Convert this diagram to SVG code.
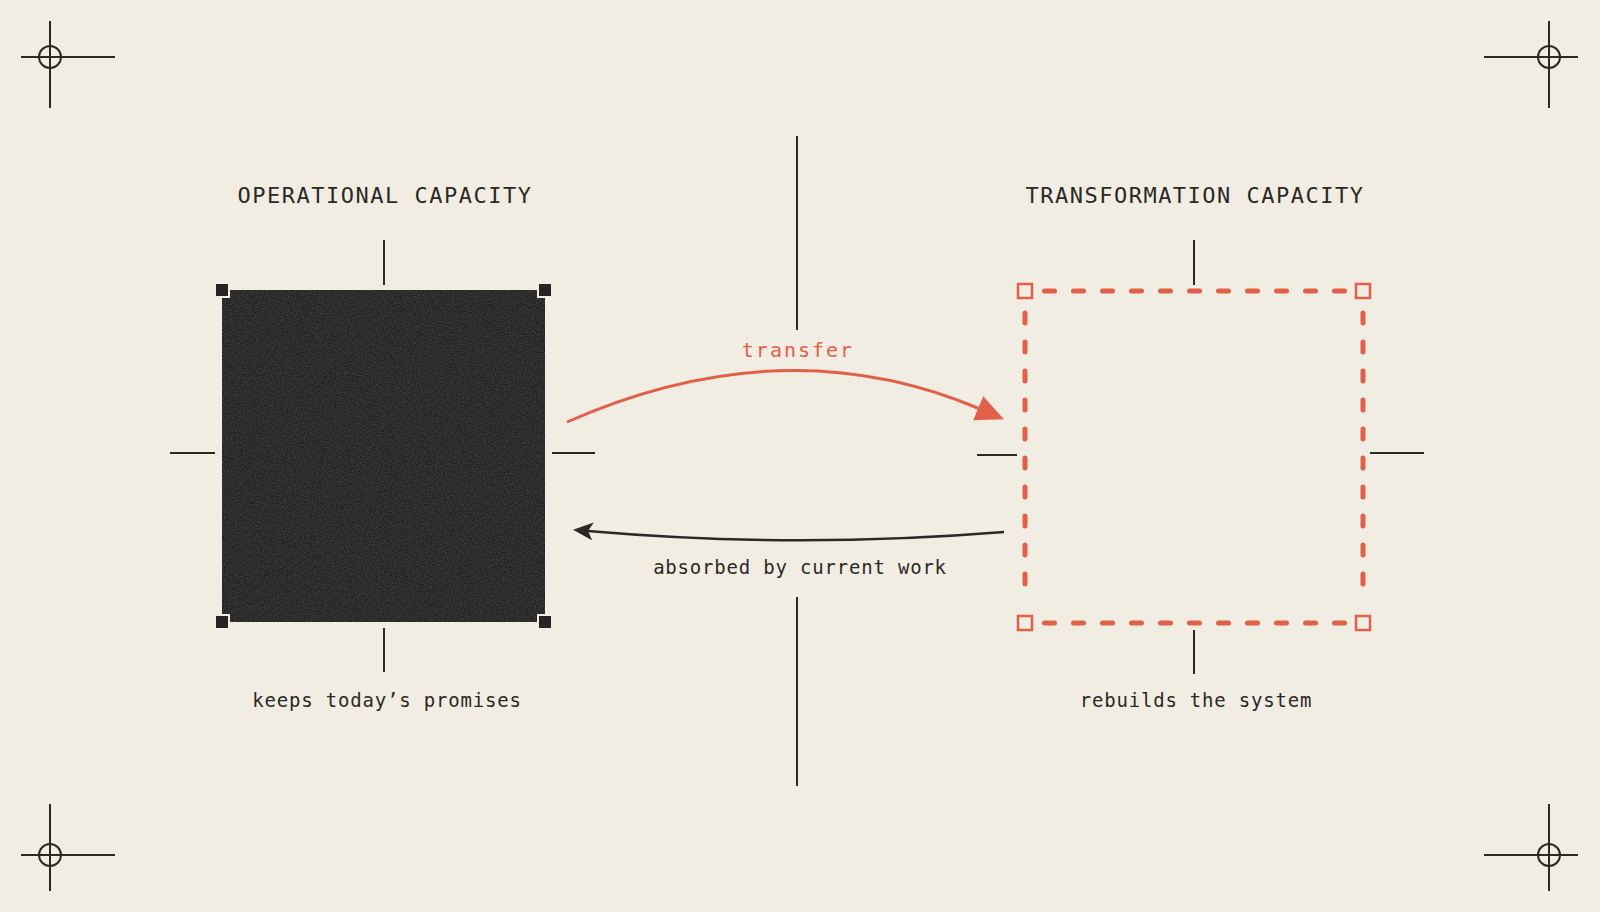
<svg xmlns="http://www.w3.org/2000/svg" width="1600" height="912" viewBox="0 0 1600 912">
  <style>
    .ink { stroke: #2a2926; stroke-width: 2; fill: none; }
    .title { font-family: "DejaVu Sans Mono", "Liberation Mono", monospace; font-size: 22px; letter-spacing: 1.5px; fill: #2a2926; text-anchor: middle; }
    .caption { font-family: "DejaVu Sans Mono", "Liberation Mono", monospace; font-size: 19px; letter-spacing: 0.8px; fill: #2a2926; text-anchor: middle; }
    .red-label { font-family: "DejaVu Sans Mono", "Liberation Mono", monospace; font-size: 20px; letter-spacing: 2px; fill: #e0604a; text-anchor: middle; }
    .dash { stroke: #e0604a; stroke-width: 5; stroke-linecap: round; stroke-dasharray: 10 19; fill: none; }
    .handle-dark { fill: #252423; stroke: #f2ede2; stroke-width: 2; }
    .handle-red { fill: #f2ede2; stroke: #e0604a; stroke-width: 2.5; }
  </style>
  <defs>
    <filter id="grain" x="0" y="0" width="100%" height="100%">
      <feTurbulence type="fractalNoise" baseFrequency="0.9" numOctaves="2" seed="3" result="n"/>
      <feColorMatrix in="n" type="matrix" values="0 0 0 0 0.3  0 0 0 0 0.3  0 0 0 0 0.29  0 0 0 0.22 -0.06" result="g"/>
      <feComposite in="g" in2="SourceGraphic" operator="in" result="gi"/>
      <feMerge><feMergeNode in="SourceGraphic"/><feMergeNode in="gi"/></feMerge>
    </filter>
    <marker id="tri" markerUnits="userSpaceOnUse" viewBox="0 0 28 26" markerWidth="28" markerHeight="26" refX="2" refY="13" orient="auto">
      <path d="M0,0 L28,13 L0,26 Z" fill="#e0604a"/>
    </marker>
    <marker id="barb" markerUnits="userSpaceOnUse" viewBox="0 0 20 18" markerWidth="20" markerHeight="18" refX="5" refY="9" orient="auto">
      <path d="M20,9 L0,0 L5,9 L0,18 Z" fill="#2a2926"/>
    </marker>
    <g id="crosshair">
      <line x1="-29" y1="0" x2="65" y2="0"/>
      <line x1="0" y1="-36" x2="0" y2="51"/>
      <circle cx="0" cy="0" r="11"/>
    </g>
  </defs>

  <rect x="0" y="0" width="1600" height="912" fill="#f2ede2"/>

  <g id="registration-marks" class="ink">
    <use href="#crosshair" transform="translate(50,57)"/>
    <use href="#crosshair" transform="translate(1549,57) scale(-1,1)"/>
    <use href="#crosshair" transform="translate(50,855) scale(1,-1)"/>
    <use href="#crosshair" transform="translate(1549,855) scale(-1,-1)"/>
  </g>

  <g id="divider" class="ink">
    <line x1="797" y1="136" x2="797" y2="330"/>
    <line x1="797" y1="597" x2="797" y2="786"/>
  </g>

  <g id="operational-capacity">
    <text class="title" x="385" y="203">OPERATIONAL CAPACITY</text>
    <rect x="222" y="290" width="323" height="332" fill="#232221" filter="url(#grain)"/>
    <rect class="handle-dark" x="215" y="283" width="14" height="14"/>
    <rect class="handle-dark" x="538" y="283" width="14" height="14"/>
    <rect class="handle-dark" x="215" y="615" width="14" height="14"/>
    <rect class="handle-dark" x="538" y="615" width="14" height="14"/>
    <g class="ink">
      <line x1="384" y1="240" x2="384" y2="285"/>
      <line x1="384" y1="628" x2="384" y2="672"/>
      <line x1="170" y1="453" x2="215" y2="453"/>
      <line x1="552" y1="453" x2="595" y2="453"/>
    </g>
    <text class="caption" x="387" y="707">keeps today’s promises</text>
  </g>

  <g id="transformation-capacity">
    <text class="title" x="1195" y="203">TRANSFORMATION CAPACITY</text>
    <line class="dash" x1="1044.5" y1="291" x2="1344.5" y2="291"/>
    <line class="dash" x1="1044.5" y1="623" x2="1344.5" y2="623"/>
    <line class="dash" x1="1025" y1="313" x2="1025" y2="600"/>
    <line class="dash" x1="1363" y1="313" x2="1363" y2="600"/>
    <rect class="handle-red" x="1018" y="284" width="14" height="14"/>
    <rect class="handle-red" x="1356" y="284" width="14" height="14"/>
    <rect class="handle-red" x="1018" y="616" width="14" height="14"/>
    <rect class="handle-red" x="1356" y="616" width="14" height="14"/>
    <g class="ink">
      <line x1="1194" y1="240" x2="1194" y2="285"/>
      <line x1="1194" y1="630" x2="1194" y2="674"/>
      <line x1="977" y1="455" x2="1017" y2="455"/>
      <line x1="1370" y1="453" x2="1424" y2="453"/>
    </g>
    <text class="caption" x="1196" y="707">rebuilds the system</text>
  </g>

  <g id="connectors">
    <path d="M567,422 Q785,326 980,409" fill="none" stroke="#e0604a" stroke-width="3" marker-end="url(#tri)"/>
    <text class="red-label" x="798" y="357">transfer</text>
    <path d="M1004,532 Q795,549 588,531" fill="none" stroke="#2a2926" stroke-width="2.5" marker-end="url(#barb)"/>
    <text class="caption" x="800" y="574">absorbed by current work</text>
  </g>
</svg>
